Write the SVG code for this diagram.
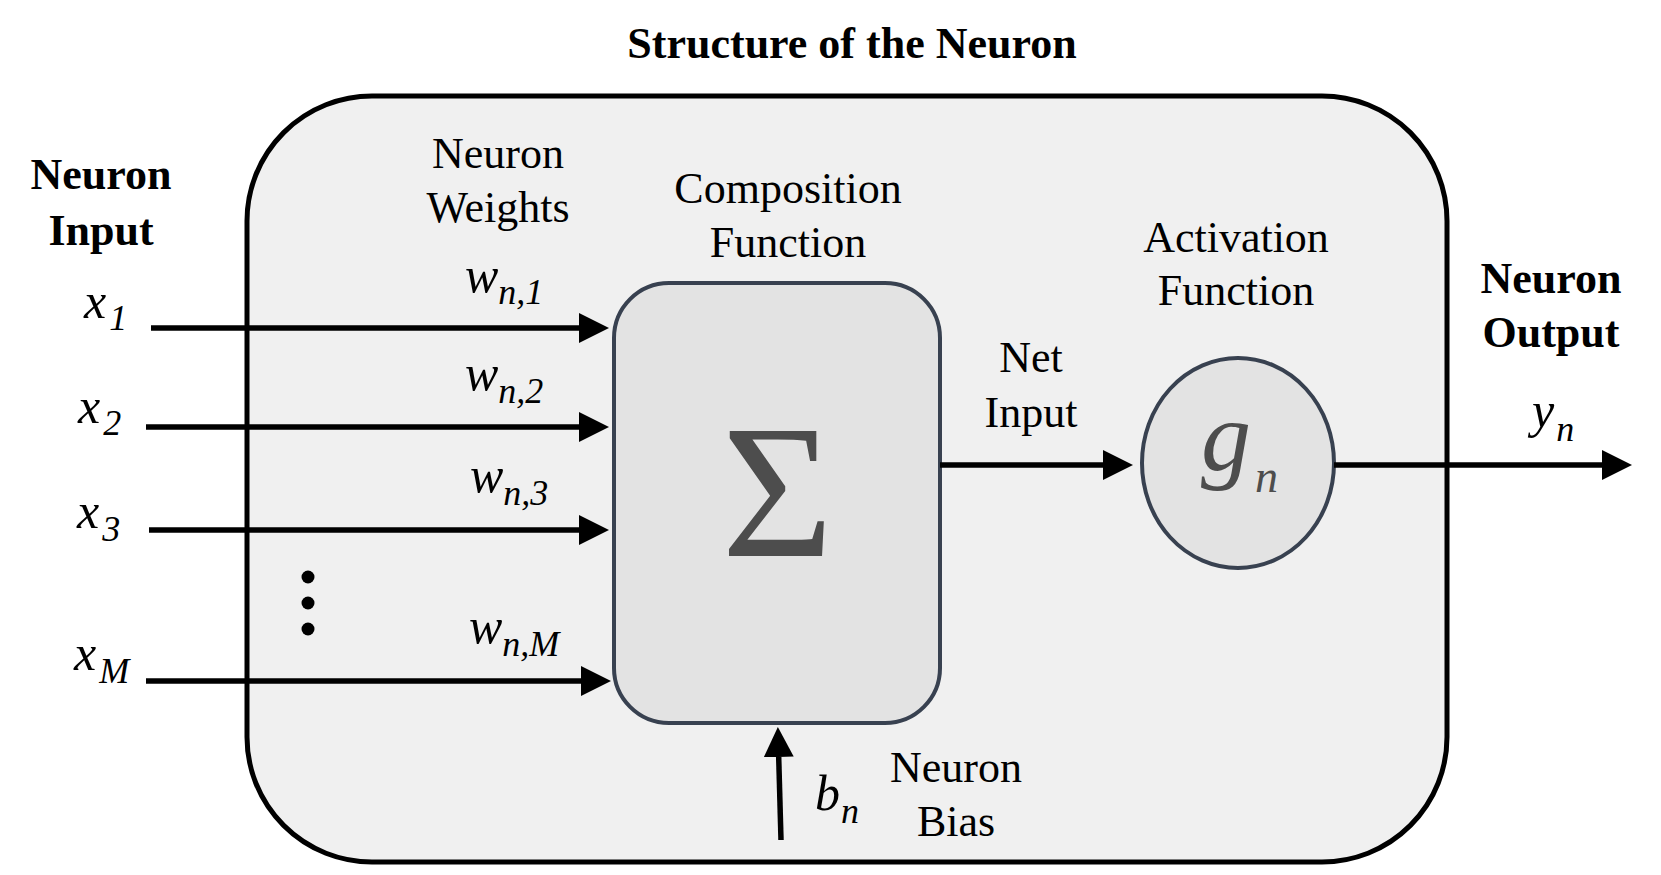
<svg xmlns="http://www.w3.org/2000/svg" width="1661" height="875" viewBox="0 0 1661 875">
<style>
.t{font-family:"Liberation Serif","Times New Roman",serif;font-size:44px;fill:#000;text-anchor:middle}
.bd{font-weight:bold}
.m{font-family:"Liberation Serif","Times New Roman",serif;font-style:italic;font-size:50px;fill:#000}
.s{font-size:36px}
.ln{stroke:#000;stroke-width:5.5;fill:none}
.node{fill:#e3e3e3;stroke:#384150;stroke-width:4}
</style>
<defs>
<marker id="ah" markerUnits="userSpaceOnUse" markerWidth="30" markerHeight="30" refX="0" refY="14" orient="auto" viewBox="0 0 28 28">
<path d="M0,0 L28,14 L0,28 z" fill="#000"/>
</marker>
</defs>
<rect width="1661" height="875" fill="#fff"/>
<text class="t bd" x="852" y="58">Structure of the Neuron</text>
<g id="neuron-body">
<rect x="247" y="96" width="1200" height="766" rx="125" ry="125" fill="#f0f0f0" stroke="#000" stroke-width="5"/>
</g>
<g id="labels">
<text class="t bd" x="101" y="189">Neuron</text>
<text class="t bd" x="101" y="245">Input</text>
<text class="t bd" x="1551" y="293">Neuron</text>
<text class="t bd" x="1551" y="347">Output</text>
<text class="t" x="498" y="168">Neuron</text>
<text class="t" x="498" y="222">Weights</text>
<text class="t" x="788" y="203">Composition</text>
<text class="t" x="788" y="257">Function</text>
<text class="t" x="1236" y="252">Activation</text>
<text class="t" x="1236" y="305">Function</text>
<text class="t" x="1031" y="372">Net</text>
<text class="t" x="1031" y="427">Input</text>
<text class="t" x="956" y="782">Neuron</text>
<text class="t" x="956" y="836">Bias</text>
</g>
<g id="inputs">
<text class="m" x="84" y="318">x<tspan class="s" dx="3" dy="12">1</tspan></text>
<text class="m" x="78" y="423">x<tspan class="s" dx="3" dy="12">2</tspan></text>
<text class="m" x="77" y="528">x<tspan class="s" dx="3" dy="13">3</tspan></text>
<text class="m" x="74" y="670">x<tspan class="s" dx="3" dy="13">M</tspan></text>
<circle cx="308" cy="577" r="6.5"/>
<circle cx="308" cy="603" r="6.5"/>
<circle cx="308" cy="629" r="6.5"/>
</g>
<g id="weights">
<text class="m" x="465" y="292">w<tspan class="s" dy="12">n,1</tspan></text>
<text class="m" x="465" y="390">w<tspan class="s" dy="13">n,2</tspan></text>
<text class="m" x="470" y="492">w<tspan class="s" dy="13">n,3</tspan></text>
<text class="m" x="469" y="643">w<tspan class="s" dy="13">n,M</tspan></text>
</g>
<g id="composition">
<rect class="node" x="614" y="283" width="326" height="440" rx="55" ry="55"/>
<text x="777.5" y="556" font-family="Liberation Serif, serif" font-size="190" fill="#4d4d4d" text-anchor="middle" textLength="112" lengthAdjust="spacingAndGlyphs">Σ</text>
</g>
<g id="activation">
<ellipse class="node" cx="1238" cy="463" rx="96" ry="105"/>
<text x="1201" y="470" font-family="Liberation Serif, serif" font-style="italic" font-size="100" fill="#4d4d4d">g<tspan font-size="46" dx="4" dy="22">n</tspan></text>
</g>
<g id="bias">
<text class="m" x="815" y="810">b<tspan class="s" dx="1" dy="13">n</tspan></text>
</g>
<g id="output">
<text class="m" x="1532" y="427">y<tspan class="s" dx="2" dy="14">n</tspan></text>
</g>
<g id="connectors">
<line class="ln" x1="151" y1="328" x2="579" y2="328" marker-end="url(#ah)"/>
<line class="ln" x1="146" y1="427" x2="579" y2="427" marker-end="url(#ah)"/>
<line class="ln" x1="149" y1="530" x2="579" y2="530" marker-end="url(#ah)"/>
<line class="ln" x1="146" y1="681" x2="581" y2="681" marker-end="url(#ah)"/>
<line class="ln" x1="940" y1="465" x2="1103" y2="465" marker-end="url(#ah)"/>
<line class="ln" x1="1334" y1="465" x2="1602" y2="465" marker-end="url(#ah)"/>
<line class="ln" x1="781" y1="840" x2="778.7" y2="757" marker-end="url(#ah)"/>
</g>
</svg>
